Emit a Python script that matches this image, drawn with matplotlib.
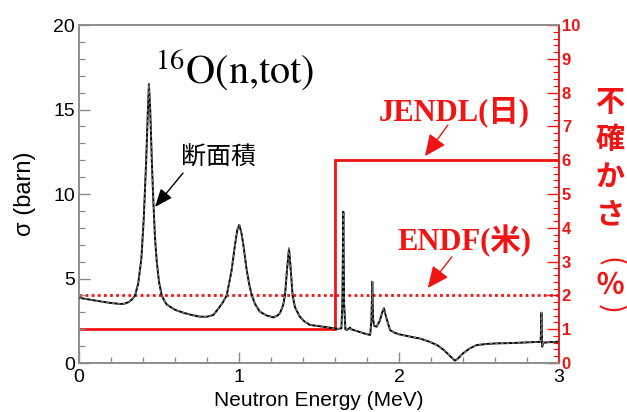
import matplotlib
matplotlib.use("Agg")
import matplotlib.pyplot as plt
from matplotlib.ticker import MultipleLocator

plt.rcParams['font.family'] = ['Liberation Sans', 'Noto Sans CJK JP', 'DejaVu Sans']
plt.rcParams['mathtext.fontset'] = 'stix'

# ---- data ----
energy = [0.00, 0.05, 0.10, 0.15, 0.20, 0.25, 0.28, 0.31, 0.33, 0.35, 0.37, 0.39,
          0.405, 0.42, 0.43, 0.437, 0.445, 0.455, 0.465, 0.475, 0.486, 0.50, 0.517,
          0.535, 0.55, 0.60, 0.65, 0.70, 0.756, 0.80, 0.84, 0.88, 0.90, 0.923, 0.94,
          0.954, 0.975, 0.99, 1.002, 1.015, 1.027, 1.048, 1.065, 1.08, 1.10, 1.13,
          1.17, 1.215, 1.24, 1.256, 1.275, 1.2875, 1.30, 1.3125, 1.322, 1.335, 1.35,
          1.38, 1.41, 1.444, 1.525, 1.594, 1.62, 1.64, 1.646, 1.652, 1.657, 1.665,
          1.675, 1.694, 1.70, 1.75, 1.80, 1.82, 1.828, 1.833, 1.838, 1.845, 1.86,
          1.88, 1.895, 1.906, 1.92, 1.944, 1.97, 2.00, 2.03, 2.09, 2.13, 2.19, 2.24,
          2.28, 2.32, 2.35, 2.37, 2.40, 2.44, 2.485, 2.55, 2.61, 2.70, 2.756, 2.85,
          2.885, 2.888, 2.89, 2.892, 2.895, 2.90, 2.95, 3.00]
sigma = [3.86, 3.78, 3.70, 3.62, 3.55, 3.50, 3.50, 3.60, 3.75, 4.00, 4.70, 6.20,
         8.60, 12.0, 14.8, 16.5, 15.0, 12.0, 9.5, 7.4, 6.0, 4.8, 4.0,
         3.65, 3.45, 3.15, 2.98, 2.85, 2.74, 2.74, 2.84, 3.33, 3.60, 4.00, 4.80,
         5.50, 7.00, 7.90, 8.17, 7.70, 7.00, 5.50, 4.60, 4.00, 3.50, 3.04,
         2.82, 2.70, 2.80, 2.95, 3.40, 4.00, 5.50, 6.78, 5.70, 4.00, 3.30,
         2.74, 2.45, 2.25, 2.15, 2.05, 2.02, 2.05, 3.50, 8.95, 3.50, 2.00,
         1.95, 2.10, 2.00, 1.85, 1.70, 1.66, 2.60, 4.81, 2.60, 2.20, 2.15,
         2.50, 3.00, 3.24, 2.70, 1.95, 1.80, 1.70, 1.64, 1.52, 1.45, 1.26, 1.05,
         0.77, 0.40, 0.14, 0.28, 0.57, 0.85, 1.06, 1.13, 1.16, 1.18, 1.20, 1.24,
         1.25, 2.00, 2.98, 2.00, 0.97, 1.20, 1.24, 1.26]

jendl_energy = [0.0, 1.6, 1.6, 3.0]
jendl_unc = [1.0, 1.0, 6.0, 6.0]
endf_energy = [0.0, 3.0]
endf_unc = [2.0, 2.0]

x_ticks = [0, 1, 2, 3]
y_ticks = [0, 5, 10, 15, 20]
y2_ticks = list(range(0, 11))

RED = '#f01414'
GRAY = '#8a8a8a'

fig = plt.figure(figsize=(6.27, 4.12), dpi=100)
ax = fig.add_axes([79/627, 1-363/412, 480/627, 338/412])
ax2 = ax.twinx()

# cross-section curve
ax.plot(energy, sigma, color='black', lw=1.4, zorder=3)
ax.plot(energy, sigma, color='#777777', lw=1.0, ls=(0, (2, 2)), zorder=4)

# uncertainty lines
ax2.plot(jendl_energy, jendl_unc, color=RED, lw=2.0, solid_joinstyle='miter')
ax2.plot(endf_energy, endf_unc, color=RED, lw=2.0, ls=(0, (1, 1.2)))

ax.set_zorder(ax2.get_zorder() + 1)
ax.patch.set_visible(False)

ax.set_xlim(0, 3)
ax.set_ylim(0, 20)
ax2.set_ylim(0, 10)

ax.set_xticks(x_ticks)
ax.set_yticks(y_ticks)
ax2.set_yticks(y2_ticks)
ax.xaxis.set_minor_locator(MultipleLocator(0.2))
ax.yaxis.set_minor_locator(MultipleLocator(1))
ax2.yaxis.set_minor_locator(MultipleLocator(0.2))

for a in (ax, ax2):
    for s in ('left', 'bottom', 'top'):
        a.spines[s].set_color(GRAY)
        a.spines[s].set_linewidth(1.1)
    a.spines['right'].set_color(RED)
    a.spines['right'].set_linewidth(1.1)

ax.tick_params(axis='both', which='major', direction='in', length=8, width=1.0,
               color=GRAY, labelsize=14)
ax.tick_params(axis='both', which='minor', direction='in', length=4.5, width=0.9,
               color=GRAY)
ax.tick_params(axis='y', which='both', right=False, pad=3)
ax.tick_params(axis='x', which='both', top=False, pad=4)
ax2.tick_params(axis='y', which='major', direction='in', length=9, width=1.0,
                color=RED, labelcolor=RED, labelsize=12, pad=2)
ax2.tick_params(axis='y', which='minor', direction='in', length=4.5, width=0.8,
                color=RED)
for lbl in ax2.get_yticklabels():
    lbl.set_fontweight('bold')

ax.set_xlabel('Neutron Energy (MeV)', fontsize=15, labelpad=4)
ax.set_ylabel('σ (barn)', fontsize=17, labelpad=12)

# title-like label
ax.text(0.475, 16.55, r'$^{16}\mathrm{O(n{,}tot)}$', fontsize=29, ha='left',
        va='baseline', color='black')

# 断面積 annotation
ax.text(0.64, 12.16, '断面積', fontsize=18, ha='left', va='center',
        family=['Noto Sans CJK JP'], color='black')
ax.annotate('', xy=(0.475, 9.23), xytext=(0.65, 11.24),
            arrowprops=dict(arrowstyle='-|>,head_length=0.55,head_width=0.22',
                            mutation_scale=20, lw=1.0, color='black',
                            shrinkA=0, shrinkB=0))

serif_cjk = ['Liberation Serif', 'Noto Sans CJK JP']
ax2.text(2.344, 7.43, 'JENDL(日)', fontsize=22, ha='center', va='center',
         family=serif_cjk, fontweight='bold', color=RED)
ax2.annotate('', xy=(2.1625, 6.12), xytext=(2.306, 7.04),
             arrowprops=dict(arrowstyle='-|>,head_length=0.55,head_width=0.25',
                             mutation_scale=24, lw=1.0, color=RED,
                             shrinkA=0, shrinkB=0))
ax2.text(2.41, 3.61, 'ENDF(米)', fontsize=22, ha='center', va='center',
         family=serif_cjk, fontweight='bold', color=RED)
ax2.annotate('', xy=(2.18, 2.22), xytext=(2.33, 3.14),
             arrowprops=dict(arrowstyle='-|>,head_length=0.55,head_width=0.25',
                             mutation_scale=24, lw=1.0, color=RED,
                             shrinkA=0, shrinkB=0))

# vertical right-axis label (stacked characters)
label_chars = ['不', '確', 'か', 'さ', '％']
char_y = [102, 139, 177, 214, 285]
for ch, py in zip(label_chars, char_y):
    fig.text(610/627, 1 - py/412, ch, fontsize=21, ha='center', va='center',
             family=['Noto Sans CJK JP'], fontweight='bold', color=RED)
# vertical parentheses around %
paren_chars = ['(', ')']
paren_y = [262, 309]
for ch, py in zip(paren_chars, paren_y):
    fig.text(610/627, 1 - py/412, ch, fontsize=21, ha='center', va='center',
             rotation=-90, rotation_mode='anchor',
             family=['Noto Sans CJK JP'], color=RED)

fig.savefig('out.png', dpi=100)
